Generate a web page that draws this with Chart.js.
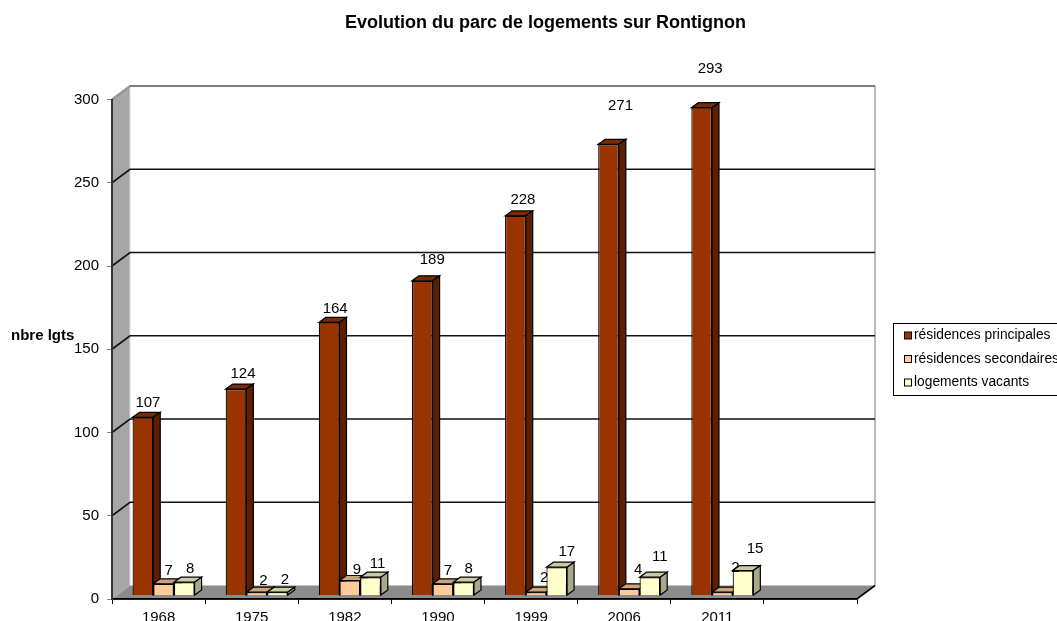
<!DOCTYPE html>
<html lang="fr">
<head>
<meta charset="utf-8">
<title>Evolution du parc de logements sur Rontignon</title>
<style>
    html, body { margin: 0; padding: 0; background: #fff; overflow: hidden; }
    canvas { display: block; }
</style>
<script src="https://cdn.jsdelivr.net/npm/chart.js@4"></script>
</head>
<body>
<canvas id="chart" width="1057" height="621"></canvas>
<script>
// Chart values, the last category is left empty like in the original sheet
const years = ['1968', '1975', '1982', '1990', '1999', '2006', '2011', ''];
const principales = [107, 124, 164, 189, 228, 271, 293];
const secondaires = [7, 2, 9, 7, 2, 4, 2];
const vacants = [8, 2, 11, 8, 17, 11, 15];
const yTicks = [0, 50, 100, 150, 200, 250, 300];

const chartTitle = 'Evolution du parc de logements sur Rontignon';
const yTitle = 'nbre lgts';
const fontFamily = '"Liberation Sans", Arial, sans-serif';

// Fake 3D settings (pixels)
const wallDx = 18, wallDy = -13.5;      // depth of the walls and the floor
const plotDx = 5, plotDy = -3.5;        // bars stand a bit inside the floor
const barDepthX = 7, barDepthY = -5;    // depth of each bar

// Hand placed data labels in the original, offsets from the top of each bar
const labelNudges = [
    [[5, -14], [7, -15], [6, -14], [10, -21], [7.5, -16], [12, -38], [8.5, -39]],
    [[5, -13], [6.7, -11], [7, -11], [5, -13], [8, -14], [9, -19], [13, -24]],
    [[6, -13], [7.5, -12], [7, -13], [5, -13], [10, -15], [10, -20], [12, -22]]
];

function polygon(ctx, points, fill, stroke, lineWidth) {
    ctx.beginPath();
    points.forEach(([x, y], i) => i ? ctx.lineTo(x, y) : ctx.moveTo(x, y));
    ctx.closePath();
    if (fill) {
        ctx.fillStyle = fill;
        ctx.fill();
    }
    if (stroke) {
        ctx.strokeStyle = stroke;
        ctx.lineWidth = lineWidth || 1;
        ctx.stroke();
    }
}

function line(ctx, points, color, lineWidth) {
    ctx.beginPath();
    points.forEach(([x, y], i) => i ? ctx.lineTo(x, y) : ctx.moveTo(x, y));
    ctx.strokeStyle = color;
    ctx.lineWidth = lineWidth || 1;
    ctx.stroke();
}

const walls3d = {
    id: 'walls3d',
    beforeDraw(chart) {
        const { ctx, chartArea: { left, right, top, bottom }, scales: { y } } = chart;
        const bx = left + wallDx, bTop = top + wallDy, bBottom = bottom + wallDy;

        ctx.save();
        polygon(ctx, [[left, top], [bx, bTop], [bx, bBottom], [left, bottom]], '#a6a6a6');
        polygon(ctx, [[left, bottom], [bx, bBottom], [right + wallDx, bBottom], [right, bottom]], '#8c8c8c');

        line(ctx, [[bx, bTop], [bx, bBottom]], '#dcdcdc', 1);
        line(ctx, [[right + wallDx, bTop], [right + wallDx, bBottom]], '#a6a6a6', 1.5);

        yTicks.slice(1).forEach(value => {
            const py = y.getPixelForValue(value);
            line(ctx, [[left, py], [bx, py + wallDy], [right + wallDx, py + wallDy]], value === 300 ? '#555' : '#111', 1.6);
        });
        line(ctx, [[left, top], [bx, bTop]], '#9a9a9a', 1.6);

        line(ctx, [[left, bottom], [right, bottom], [right + wallDx, bBottom]], '#000', 1.6);
        ctx.restore();
    }
};

const bars3d = {
    id: 'bars3d',
    beforeDatasetsDraw(chart) {
        const { ctx } = chart;
        ctx.save();
        ctx.translate(plotDx, plotDy);

        // top and side faces first, the library draws the front faces on them
        chart.data.datasets.forEach((dataset, d) => {
            chart.getDatasetMeta(d).data.forEach(bar => {
                const l = bar.x - bar.width / 2, r = bar.x + bar.width / 2;
                polygon(ctx, [[l, bar.y], [l + barDepthX, bar.y + barDepthY], [r + barDepthX, bar.y + barDepthY], [r, bar.y]],
                    dataset.topColor, '#000', 1.2);
                polygon(ctx, [[r, bar.y], [r + barDepthX, bar.y + barDepthY], [r + barDepthX, bar.base + barDepthY], [r, bar.base]],
                    dataset.sideColor, '#000', 1.2);
            });
        });
    },
    afterDatasetsDraw(chart) {
        const { ctx } = chart;
        ctx.font = '15px ' + fontFamily;
        ctx.fillStyle = '#000';
        ctx.textAlign = 'center';
        ctx.textBaseline = 'middle';
        chart.data.datasets.forEach((dataset, d) => {
            chart.getDatasetMeta(d).data.forEach((bar, i) => {
                const [dx, dy] = labelNudges[d][i];
                ctx.fillText(String(dataset.data[i]), bar.x + dx, bar.y + dy);
            });
        });
        ctx.restore();
    }
};

const chartTexts = {
    id: 'chartTexts',
    afterDraw(chart) {
        const { ctx } = chart;
        ctx.save();
        ctx.fillStyle = '#000';
        ctx.textBaseline = 'middle';

        ctx.font = 'bold 18px ' + fontFamily;
        ctx.textAlign = 'center';
        ctx.fillText(chartTitle, 545.5, 23);

        ctx.font = 'bold 15px ' + fontFamily;
        ctx.textAlign = 'left';
        ctx.fillText(yTitle, 11, 335.5);

        // Legend runs out of the picture on the right, same as the source
        ctx.strokeStyle = '#000';
        ctx.lineWidth = 1;
        ctx.strokeRect(893.5, 323.5, 200, 72);
        ctx.font = '13.8px ' + fontFamily;
        chart.data.datasets.forEach((dataset, d) => {
            const py = 335.5 + d * 23.5;
            ctx.fillStyle = dataset.backgroundColor;
            ctx.fillRect(904.5, py - 3.5, 7, 7);
            ctx.strokeRect(904.5, py - 3.5, 7, 7);
            ctx.fillStyle = '#000';
            ctx.fillText(dataset.label, 914, py);
        });
        ctx.restore();
    }
};

new Chart(document.getElementById('chart'), {
    type: 'bar',
    data: {
        labels: years,
        datasets: [
            { label: 'résidences principales', data: principales, backgroundColor: '#993300', topColor: '#7a2900', sideColor: '#5c1f00' },
            { label: 'résidences secondaires', data: secondaires, backgroundColor: '#ffcc99', topColor: '#cca37a', sideColor: '#997a5c' },
            { label: 'logements vacants', data: vacants, backgroundColor: '#ffffcc', topColor: '#cccca3', sideColor: '#a9a988' }
        ].map(dataset => ({
            ...dataset,
            borderColor: '#000',
            borderWidth: 1.2,
            barPercentage: 1,
            categoryPercentage: 0.666,
            clip: false
        }))
    },
    plugins: [walls3d, bars3d, chartTexts],
    options: {
        responsive: false,
        animation: false,
        layout: {
            padding: { left: 0, right: 200, top: 99.5, bottom: 0 }
        },
        scales: {
            x: {
                afterFit: scale => { scale.height = 22; },
                grid: {
                    offset: true,
                    drawOnChartArea: false,
                    tickLength: 5,
                    color: '#000'
                },
                border: { color: '#000', width: 1.5 },
                ticks: {
                    color: '#000',
                    maxRotation: 0,
                    autoSkip: false,
                    padding: 5,
                    font: { family: fontFamily, size: 15 }
                }
            },
            y: {
                min: 0,
                max: 300,
                afterFit: scale => { scale.width = 112; },
                afterBuildTicks: scale => { scale.ticks = yTicks.map(value => ({ value })); },
                grid: {
                    drawOnChartArea: false,
                    tickLength: 5,
                    color: '#808080'
                },
                border: { color: '#333', width: 2 },
                ticks: {
                    color: '#000',
                    padding: 8,
                    font: { family: fontFamily, size: 15 }
                }
            }
        },
        plugins: {
            legend: { display: false },
            title: { display: false },
            tooltip: { enabled: false }
        }
    }
});
</script>
</body>
</html>
